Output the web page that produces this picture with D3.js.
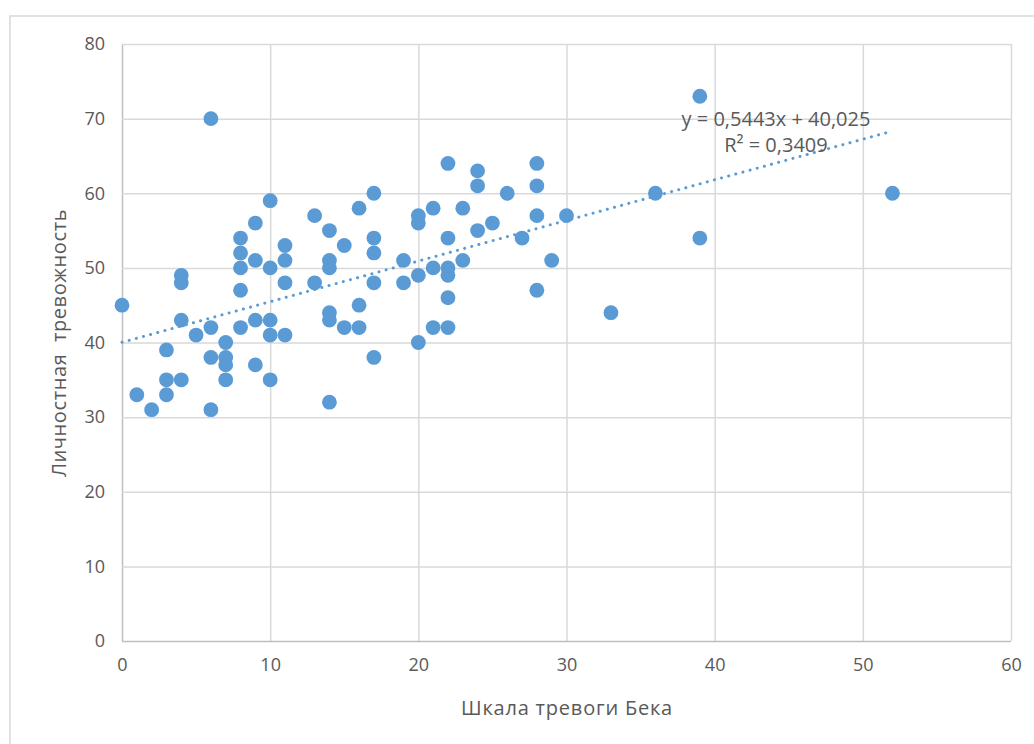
<!DOCTYPE html>
<html>
<head>
<meta charset="utf-8">
<script src="https://cdn.jsdelivr.net/npm/d3@7"></script>
<style>
  html, body { margin: 0; padding: 0; background: #fff; }
  svg { display: block; }
  text { font-family: "Open Sans", "Noto Sans", sans-serif; fill: #595959; }
</style>
</head>
<body>
<svg id="chart" width="1034" height="744"></svg>
<script>
// Data: Beck anxiety scale (x) vs. trait anxiety (y)
const beckScores = [
  0, 1, 2, 3, 3, 3, 4, 4, 4, 4, 5, 6, 6, 6, 6, 7, 7, 7, 7,
  8, 8, 8, 8, 8, 9, 9, 9, 9, 10, 10, 10, 10, 10, 11, 11, 11, 11,
  13, 13, 14, 14, 14, 14, 14, 14, 15, 15, 16, 16, 16,
  17, 17, 17, 17, 17, 19, 19, 20, 20, 20, 20, 21, 21, 21,
  22, 22, 22, 22, 22, 22, 23, 23, 24, 24, 24, 25, 26, 27,
  28, 28, 28, 28, 29, 30, 33, 36, 39, 39, 52
];
const traitAnxiety = [
  45, 33, 31, 39, 35, 33, 49, 48, 43, 35, 41, 70, 42, 38, 31, 40, 38, 37, 35,
  54, 52, 50, 47, 42, 56, 51, 43, 37, 59, 50, 43, 41, 35, 53, 51, 48, 41,
  57, 48, 55, 51, 50, 44, 43, 32, 53, 42, 58, 45, 42,
  60, 54, 52, 48, 38, 51, 48, 57, 56, 49, 40, 58, 50, 42,
  64, 54, 50, 49, 46, 42, 58, 51, 63, 61, 55, 56, 60, 54,
  64, 61, 57, 47, 51, 57, 44, 60, 73, 54, 60
];
const xTicks = [0, 10, 20, 30, 40, 50, 60];
const yTicks = [0, 10, 20, 30, 40, 50, 60, 70, 80];
const trendSlope = 0.5443;
const trendIntercept = 40.025;
const trendLabel = ["y = 0,5443x + 40,025", "R² = 0,3409"];
const xTitle = "Шкала тревоги Бека";
const yTitle = "Личностная\u00A0 тревожность";

const points = beckScores.map((x, i) => ({ x, y: traitAnxiety[i] }));

const svg = d3.select("#chart");
const W = 1034, H = 744;
const m = { left: 122, right: 1011, top: 44, bottom: 641 };

// outer chart border
svg.append("rect")
  .attr("x", 10).attr("y", 16)
  .attr("width", W + 10).attr("height", H + 10)
  .attr("fill", "#fff").attr("stroke", "#d9d9d9").attr("stroke-width", 1.5);

const x = d3.scaleLinear().domain([0, 60]).range([m.left, m.right]);
const y = d3.scaleLinear().domain([0, 80]).range([m.bottom, m.top]);

// gridlines + tick labels
const xAxisG = svg.append("g")
  .attr("transform", `translate(0,${m.bottom})`)
  .call(d3.axisBottom(x).tickValues(xTicks).tickSize(-(m.bottom - m.top)).tickPadding(17).tickFormat(d3.format("d")));
xAxisG.select(".domain").remove();
xAxisG.selectAll("line").attr("stroke", d => d === 0 ? "#bfbfbf" : "#d9d9d9").attr("stroke-width", 1.5);
xAxisG.selectAll("text").attr("font-size", 18).attr("fill", "#595959")
  .attr("font-family", '"Open Sans", sans-serif');

const yAxisG = svg.append("g")
  .attr("transform", `translate(${m.left},0)`)
  .call(d3.axisLeft(y).tickValues(yTicks).tickSize(-(m.right - m.left)).tickPadding(17).tickFormat(d3.format("d")));
yAxisG.select(".domain").remove();
yAxisG.selectAll("line").attr("stroke", d => d === 0 ? "#bfbfbf" : "#d9d9d9").attr("stroke-width", 1.5);
yAxisG.selectAll("text").attr("font-size", 18).attr("fill", "#595959")
  .attr("font-family", '"Open Sans", sans-serif');

// points
svg.append("g").selectAll("circle")
  .data(points).join("circle")
  .attr("cx", d => x(d.x)).attr("cy", d => y(d.y))
  .attr("r", 7.4).attr("fill", "#5b9bd5");

// trendline
const xMin = d3.min(beckScores), xMax = d3.max(beckScores);
svg.append("line")
  .attr("x1", x(xMin)).attr("y1", y(trendSlope * xMin + trendIntercept))
  .attr("x2", x(xMax)).attr("y2", y(trendSlope * xMax + trendIntercept))
  .attr("stroke", "#5b9bd5").attr("stroke-width", 3)
  .attr("stroke-linecap", "round").attr("stroke-dasharray", "0.1 7.3");

// trendline label
svg.append("text").attr("x", 776).attr("y", 126).attr("text-anchor", "middle")
  .attr("font-size", 20).text(trendLabel[0]);
svg.append("text").attr("x", 776).attr("y", 152).attr("text-anchor", "middle")
  .attr("font-size", 20).text(trendLabel[1]);

// axis titles
svg.append("text").attr("x", 567).attr("y", 715).attr("text-anchor", "middle")
  .attr("font-size", 20).attr("letter-spacing", 0.8).text(xTitle);
svg.append("text")
  .attr("transform", "translate(66,343) rotate(-90)")
  .attr("text-anchor", "middle").attr("font-size", 20).attr("letter-spacing", 0.6).text(yTitle);
</script>
</body>
</html>
